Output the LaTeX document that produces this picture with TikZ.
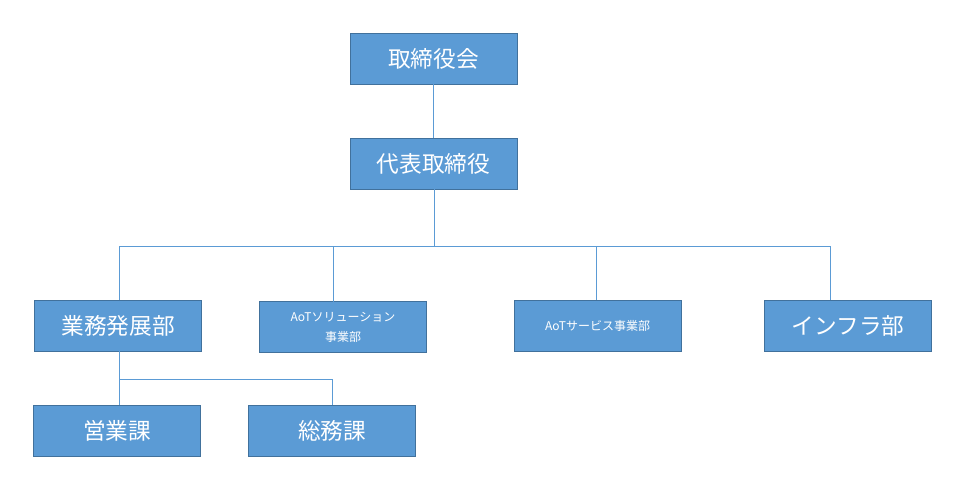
\documentclass[tikz,border=0pt]{standalone}
\usepackage{fontspec}
\newfontfamily\cjk{Noto Sans CJK JP}
\definecolor{boxfill}{HTML}{5B9BD5}
\definecolor{boxline}{HTML}{41719C}
\begin{document}
\begin{tikzpicture}[x=0.75pt,y=-0.75pt,
  box/.style={draw=boxline,fill=boxfill,text=white,minimum width=125pt,minimum height=38pt,inner sep=0pt,font=\cjk\fontsize{17}{20}\selectfont,align=center},
  small/.style={font=\cjk\fontsize{9}{15}\selectfont},
  conn/.style={draw=boxfill,line width=0.75pt}]
\useasboundingbox (0,0) rectangle (962,486);
\node[box] (a) at (433.5,58.5) {取締役会};
\node[box] (b) at (433.5,163.5) {代表取締役};
\node[box] (c) at (118,325.5) {業務発展部};
\node[box,small] (d) at (343,327) {AoTソリューション\\事業部};
\node[box,small] (e) at (597.5,325.5) {AoTサービス事業部};
\node[box] (f) at (848,325.5) {インフラ部};
\node[box] (g) at (117,430.5) {営業課};
\node[box] (h) at (332,430.5) {総務課};
\coordinate (j) at (434,246);
\coordinate (jl) at (119,246);
\coordinate (jr) at (830,246);
\coordinate (k) at (119,379);
\draw[conn] (a) -- (b);
\draw[conn] (b.south -| j) -- (j);
\draw[conn] (jl) -- (jr);
\draw[conn] (jl) -- (jl |- c.north);
\draw[conn] (333,246) -- (333,302);
\draw[conn] (596,246) -- (596,300);
\draw[conn] (jr) -- (jr |- f.north);
\draw[conn] (c.south -| k) -- (k |- g.north);
\draw[conn] (k) -- (332,379) -- (h.north);
\end{tikzpicture}
\end{document}
